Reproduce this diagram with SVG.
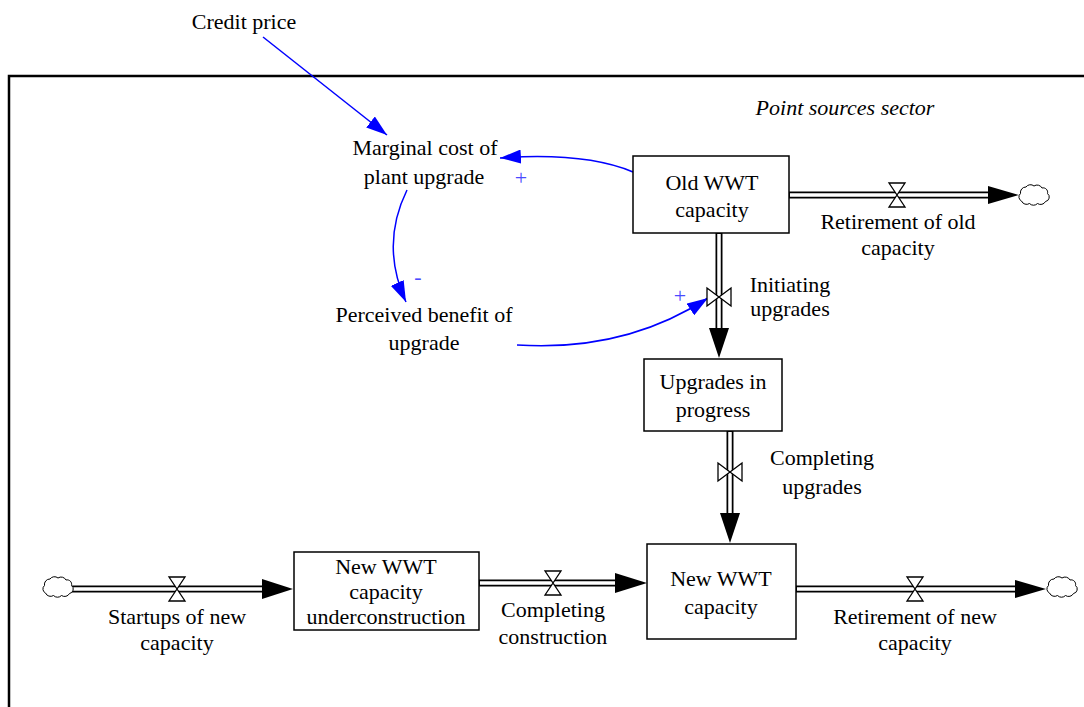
<svg xmlns="http://www.w3.org/2000/svg" width="1084" height="707" viewBox="0 0 1084 707" font-family="'Liberation Serif', 'Times New Roman', Times, serif">
<style>
text{font-size:22px;fill:#000;text-anchor:middle}
.stock{fill:#fff;stroke:#000;stroke-width:1.5}
.pipeo{fill:none;stroke:#000;stroke-width:7}
.pipei{fill:none;stroke:#fff;stroke-width:3.5}
.valve{fill:#fff;stroke:#000;stroke-width:1.3}
.head{fill:#000;stroke:none}
.link{fill:none;stroke:#0000ff;stroke-width:1.5}
.cloud{fill:#fff;stroke:#000;stroke-width:1}
.sign{fill:#4a4aff;font-size:22px}
</style>
<defs>
<marker id="ah" markerUnits="userSpaceOnUse" markerWidth="22" markerHeight="14" refX="21" refY="7" orient="auto">
<path d="M0,0 L21,7 L0,14 z" fill="#0000ff"/>
</marker>
<path id="cloudshape" d="M -13.5,-3.5 a5.5,5.5 0 0 1 5.5,-6.5 a5.5,5.5 0 0 1 8,-1 a5.5,5.5 0 0 1 8,2 a4.5,4.5 0 0 1 5.5,5.5 a4.5,4.5 0 0 1 -2,8 a5.5,5.5 0 0 1 -8,2 a5.5,5.5 0 0 1 -8,0 a5.5,5.5 0 0 1 -8,-2.5 a4.5,4.5 0 0 1 -1,-7.5 z"/>
</defs>
<rect width="1084" height="707" fill="#fff"/>
<g id="sector">
<path d="M 9 707 V 76 H 1084" fill="none" stroke="#000" stroke-width="2.5"/>
<text x="845" y="115" font-style="italic">Point sources sector</text>
</g>
<g id="connectors">
<path class="pipeo" d="M 72 589 H 263"/><path class="pipei" d="M 70 589 H 263"/>
<polygon class="head" points="262,579 293,589 262,599"/>
<path class="pipeo" d="M 479 583 H 616"/><path class="pipei" d="M 480 583 H 616"/>
<polygon class="head" points="615,573 647,583 615,593"/>
<path class="pipeo" d="M 796 589 H 1016"/><path class="pipei" d="M 797 589 H 1016"/>
<polygon class="head" points="1015,580 1046,589 1015,598"/>
<path class="pipeo" d="M 789 195 H 989"/><path class="pipei" d="M 790 195 H 989"/>
<polygon class="head" points="988,186 1019,195 988,204"/>
<path class="pipeo" d="M 719 233 V 329"/><path class="pipei" d="M 719 234 V 329"/>
<polygon class="head" points="709,328 719,358 729,328"/>
<path class="pipeo" d="M 730 431 V 514"/><path class="pipei" d="M 730 432 V 514"/>
<polygon class="head" points="720,513 730,543 740,513"/>
<use href="#cloudshape" class="cloud" x="58" y="589"/>
<use href="#cloudshape" class="cloud" x="1062" y="589"/>
<use href="#cloudshape" class="cloud" x="1034" y="197"/>
<path class="link" d="M 263 37 L 387 135" marker-end="url(#ah)"/>
<path class="link" d="M 633 172 Q 585 152 500 158" marker-end="url(#ah)"/>
<path class="link" d="M 407 190 Q 380 245 406 302" marker-end="url(#ah)"/>
<path class="link" d="M 517 345 Q 625 352 708 298" marker-end="url(#ah)"/>
<text class="sign" x="521" y="185">+</text>
<text class="sign" x="418" y="284">-</text>
<text class="sign" x="680" y="303">+</text>
</g>
<g id="credit-price">
<text x="244" y="29">Credit price</text>
</g>
<g id="marginal-cost">
<text x="425" y="155">Marginal cost of</text>
<text x="424" y="184">plant upgrade</text>
</g>
<g id="perceived-benefit">
<text x="424" y="322">Perceived benefit of</text>
<text x="424" y="350">upgrade</text>
</g>
<g id="old-wwt-capacity">
<rect class="stock" x="633" y="156" width="156" height="77"/>
<text x="712" y="190">Old WWT</text>
<text x="712" y="217">capacity</text>
</g>
<g id="upgrades-in-progress">
<rect class="stock" x="644" y="359" width="138" height="72"/>
<text x="713" y="389">Upgrades in</text>
<text x="713" y="417">progress</text>
</g>
<g id="new-wwt-capacity">
<rect class="stock" x="647" y="544" width="149" height="95"/>
<text x="721" y="586">New WWT</text>
<text x="721" y="614">capacity</text>
</g>
<g id="new-wwt-under-construction">
<rect class="stock" x="294" y="552" width="185" height="78"/>
<text x="386" y="574">New WWT</text>
<text x="386" y="599">capacity</text>
<text x="386" y="624">underconstruction</text>
</g>
<g id="startups-of-new-capacity">
<path class="valve" d="M 169 577 L 185 577 L 169 601 L 185 601 Z"/>
<text x="177" y="624">Startups of new</text>
<text x="177" y="650">capacity</text>
</g>
<g id="completing-construction">
<path class="valve" d="M 545 571 L 561 571 L 545 595 L 561 595 Z"/>
<text x="553" y="617">Completing</text>
<text x="553" y="644">construction</text>
</g>
<g id="retirement-of-new-capacity">
<path class="valve" d="M 907 577 L 923 577 L 907 601 L 923 601 Z"/>
<text x="915" y="624">Retirement of new</text>
<text x="915" y="650">capacity</text>
</g>
<g id="retirement-of-old-capacity">
<path class="valve" d="M 889 183 L 905 183 L 889 207 L 905 207 Z"/>
<text x="898" y="229">Retirement of old</text>
<text x="898" y="255">capacity</text>
</g>
<g id="initiating-upgrades">
<path class="valve" d="M 707 288 L 707 306 L 731 288 L 731 306 Z"/>
<text x="790" y="292">Initiating</text>
<text x="790" y="316">upgrades</text>
</g>
<g id="completing-upgrades">
<path class="valve" d="M 718 463 L 718 481 L 742 463 L 742 481 Z"/>
<text x="822" y="465">Completing</text>
<text x="822" y="494">upgrades</text>
</g>
</svg>
